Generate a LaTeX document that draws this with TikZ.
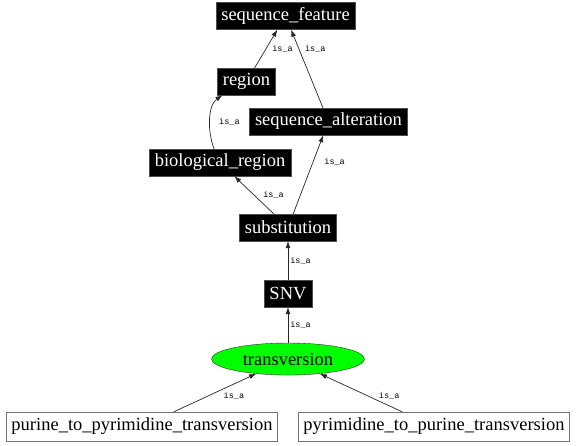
\documentclass[tikz,border=0pt]{standalone}
\usepackage{fontspec}
\setmainfont{Liberation Serif}
\newfontfamily\isafont{Liberation Mono}
\usetikzlibrary{arrows.meta}
\usetikzlibrary{shapes.geometric}

\begin{document}
\begin{tikzpicture}[x=1pt, y=-1pt, >={Latex[length=7pt,width=5pt]}]
    \tikzstyle{term} = [draw=black!70, fill=black, text=white, rectangle, font=\fontsize{18.5}{20}\selectfont, inner xsep=5.5pt, inner ysep=1pt, minimum height=27pt];
    \tikzstyle{leaf} = [draw=black!55, fill=white, rectangle, font=\fontsize{18.5}{20}\selectfont, inner xsep=5pt, inner ysep=1pt, minimum height=29pt];
    \tikzstyle{focus} = [draw=black!80, fill=green, ellipse, font=\fontsize{18.5}{20}\selectfont, minimum width=153pt, minimum height=32pt, inner sep=0pt];
    \tikzstyle{isa} = [font=\isafont\fontsize{8.5}{9}\selectfont, inner sep=1pt, text=black];
    \tikzstyle{edge} = [->, draw=black!85, line width=0.7pt];
    \useasboundingbox (0,0) rectangle (576,445);
    \node [term] (sf) at (285.5,16) {sequence\_feature};
    \node [term] (region) at (246.5,81.5) {region};
    \node [term] (salt) at (328.5,121.5) {sequence\_alteration};
    \node [term] (bio) at (220,162.5) {biological\_region};
    \node [term] (subst) at (288,227.5) {substitution};
    \node [term] (snv) at (288,293.5) {SNV};
    \node [focus] (trans) at (288,359) {transversion};
    \node [leaf] (pur) at (142,426.5) {purine\_to\_pyrimidine\_transversion};
    \node [leaf] (pyr) at (434,426.5) {pyrimidine\_to\_purine\_transversion};
    \draw [edge] (region) -- node [isa, pos=0.5, right=5pt] {is\_a} (sf);
    \draw [edge] (salt) -- node [isa, pos=0.76, right=5pt] {is\_a} (sf);
    \draw [edge] ([xshift=-6pt]bio.north) .. controls (207,130) and (208,105) .. ([xshift=-24pt]region.south);
    \node [isa, right] at (218,122) {is\_a};
    \draw [edge] (subst) -- node [isa, pos=0.5, right=8pt] {is\_a} (bio);
    \draw [edge] (subst) -- node [isa, pos=0.66, right=10pt] {is\_a} (salt);
    \draw [edge] (snv) -- node [isa, pos=0.5, right=1pt] {is\_a} (subst);
    \draw [edge] (trans) -- node [isa, pos=0.5, right=1pt] {is\_a} (snv);
    \draw [edge] (pur) -- node [isa, pos=0.42, right=14pt] {is\_a} (trans);
    \draw [edge] (pyr) -- node [isa, pos=0.42, right=10pt] {is\_a} (trans);
\end{tikzpicture}
\end{document}
